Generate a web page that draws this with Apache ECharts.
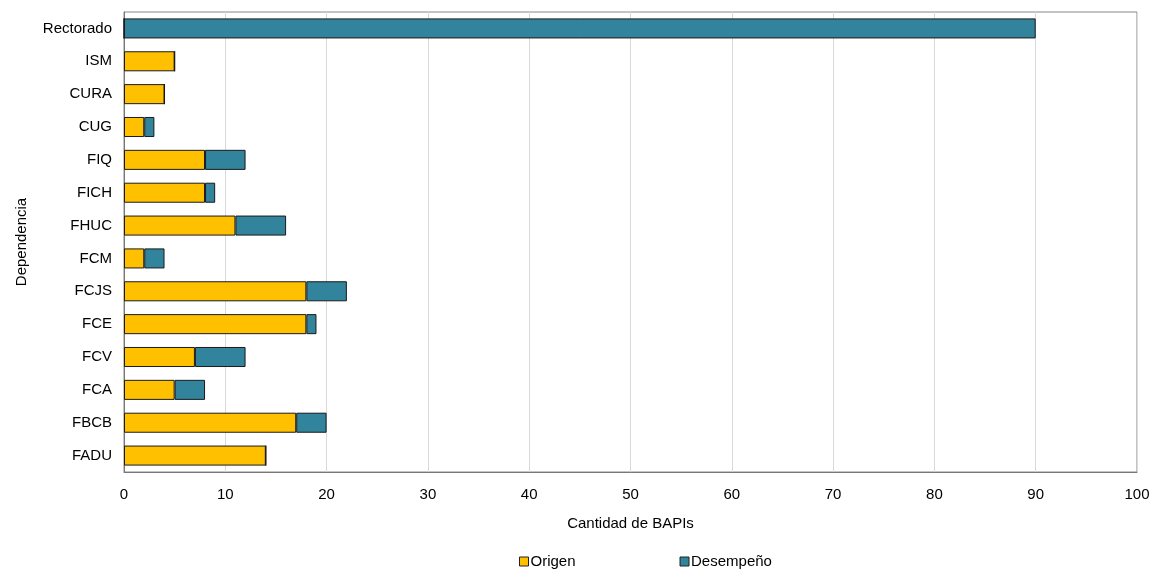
<!DOCTYPE html>
<html>
<head>
<meta charset="utf-8">
<script src="https://cdn.jsdelivr.net/npm/echarts@6/dist/echarts.min.js"></script>
<style>
  html, body { margin: 0; padding: 0; background: #fff; }
  #chart { width: 1154px; height: 570px; }
</style>
</head>
<body>
<div id="chart"></div>
<script>
// categorias de abajo hacia arriba (eje y invertido por orden)
var categories = ['FADU', 'FBCB', 'FCA', 'FCV', 'FCE', 'FCJS', 'FCM', 'FHUC', 'FICH', 'FIQ', 'CUG', 'CURA', 'ISM', 'Rectorado'];
var origen     = [14, 17, 5, 7, 18, 18, 2, 11, 8, 8, 2, 4, 5, 0];
var desempeno  = [0, 3, 3, 5, 1, 4, 2, 5, 1, 4, 1, 0, 0, 90];
var xTicks = [0, 100, 10];

var font = 'Liberation Sans, Arial, sans-serif';
var chart = echarts.init(document.getElementById('chart'));

chart.setOption({
    backgroundColor: '#fff',
    animation: false,
    textStyle: { fontFamily: font, color: '#000' },
    grid: {
        left: 124,
        right: 17,
        top: 12,
        bottom: 98,
        show: true,
        borderColor: '#888',
        borderWidth: 1
    },
    legend: {
        top: 549,
        left: 514,
        itemGap: 104,
        itemWidth: 9,
        itemHeight: 9,
        icon: 'rect',
        textStyle: { fontFamily: font, fontSize: 15, color: '#000', padding: [0, 0, 0, -3] },
        data: [
            { name: 'Origen', itemStyle: { borderColor: '#222', borderWidth: 1 } },
            { name: 'Desempeño', itemStyle: { borderColor: '#222', borderWidth: 1 } }
        ]
    },
    xAxis: {
        type: 'value',
        min: xTicks[0],
        max: xTicks[1],
        interval: xTicks[2],
        name: 'Cantidad de BAPIs',
        nameLocation: 'middle',
        nameGap: 44,
        nameTextStyle: { fontFamily: font, fontSize: 15, color: '#000' },
        axisLine: { show: true, lineStyle: { color: '#777' } },
        axisTick: { show: false },
        axisLabel: { margin: 15, fontSize: 15, color: '#000', fontFamily: font },
        splitLine: { show: true, lineStyle: { color: '#d9d9d9' } }
    },
    yAxis: {
        type: 'category',
        data: categories,
        name: 'Dependencia',
        nameLocation: 'middle',
        nameGap: 95,
        nameRotate: 90,
        nameTextStyle: { fontFamily: font, fontSize: 15, color: '#000' },
        axisLine: { show: true, lineStyle: { color: '#777' } },
        axisTick: { show: false },
        axisLabel: { margin: 12, fontSize: 15, color: '#000', fontFamily: font },
        splitLine: { show: false }
    },
    series: [
        {
            name: 'Origen',
            type: 'bar',
            stack: 'total',
            barWidth: '61%',
            data: origen,
            itemStyle: { color: '#FFC000', borderColor: '#1a1a1a', borderWidth: 1 }
        },
        {
            name: 'Desempeño',
            type: 'bar',
            stack: 'total',
            barWidth: '61%',
            data: desempeno,
            itemStyle: { color: '#31849B', borderColor: '#1a1a1a', borderWidth: 1 }
        }
    ]
});
</script>
</body>
</html>
